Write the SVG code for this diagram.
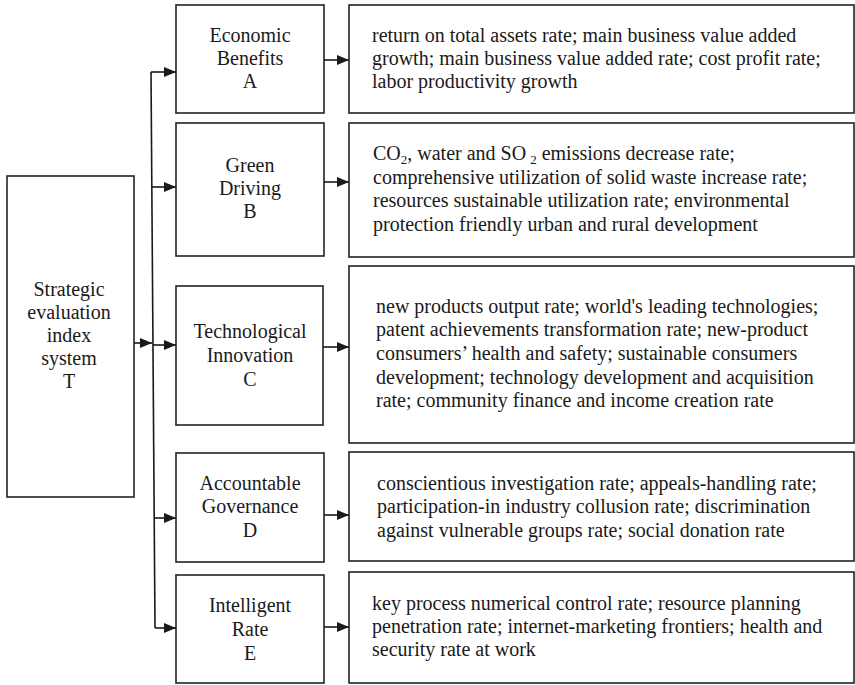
<svg xmlns="http://www.w3.org/2000/svg" width="855" height="685" viewBox="0 0 855 685">
  <defs>
    <marker id="arrow" markerWidth="12" markerHeight="10" refX="12" refY="5" orient="auto" markerUnits="userSpaceOnUse">
      <path d="M0,0 L12,5 L0,10 Z" fill="#1a1a1a"/>
    </marker>
    <style>
      .box { fill: #ffffff; stroke: #222222; stroke-width: 1.6; }
      text { font-family: 'Liberation Serif', 'DejaVu Serif', serif; font-size: 20px; fill: #1a1a1a; }
      .lbl { text-anchor: middle; }
      .sub { font-size: 13px; }
      .conn { fill: none; stroke: #1a1a1a; stroke-width: 1.6; }
      .arr { fill: none; stroke: #1a1a1a; stroke-width: 1.6; marker-end: url(#arrow); }
    </style>
  </defs>

  <rect width="855" height="685" fill="#ffffff"/>

  <!-- Root node -->
  <g id="node-T" font-family="Liberation Serif, DejaVu Serif, serif">
    <rect class="box" x="7" y="176" width="127" height="321"/>
    <text class="lbl" x="69" y="296">Strategic</text>
    <text class="lbl" x="69" y="319">evaluation</text>
    <text class="lbl" x="69" y="342">index</text>
    <text class="lbl" x="69" y="365">system</text>
    <text class="lbl" x="69" y="388">T</text>
  </g>

  <!-- Dimension nodes -->
  <g id="node-A">
    <rect class="box" x="176" y="5" width="148" height="108"/>
    <text class="lbl" x="250" y="42">Economic</text>
    <text class="lbl" x="250" y="65">Benefits</text>
    <text class="lbl" x="250" y="88">A</text>
  </g>
  <g id="node-B">
    <rect class="box" x="176" y="123" width="148" height="133"/>
    <text class="lbl" x="250" y="172">Green</text>
    <text class="lbl" x="250" y="195">Driving</text>
    <text class="lbl" x="250" y="218">B</text>
  </g>
  <g id="node-C">
    <rect class="box" x="176" y="286" width="147" height="139"/>
    <text class="lbl" x="250" y="338">Technological</text>
    <text class="lbl" x="250" y="362">Innovation</text>
    <text class="lbl" x="250" y="386">C</text>
  </g>
  <g id="node-D">
    <rect class="box" x="176" y="453" width="148" height="109"/>
    <text class="lbl" x="250" y="490">Accountable</text>
    <text class="lbl" x="250" y="513">Governance</text>
    <text class="lbl" x="250" y="537">D</text>
  </g>
  <g id="node-E">
    <rect class="box" x="176" y="575" width="148" height="108"/>
    <text class="lbl" x="250" y="612">Intelligent</text>
    <text class="lbl" x="250" y="636">Rate</text>
    <text class="lbl" x="250" y="660">E</text>
  </g>

  <!-- Indicator nodes -->
  <g id="node-A-indicators">
    <rect class="box" x="349" y="5" width="505" height="108"/>
    <text x="372" y="42">return on total assets rate; main business value added</text>
    <text x="372" y="65">growth; main business value added rate; cost profit rate;</text>
    <text x="372" y="88">labor productivity growth</text>
  </g>
  <g id="node-B-indicators">
    <rect class="box" x="349" y="123" width="505" height="134"/>
    <text x="373" y="160">CO<tspan class="sub" dy="4">2</tspan><tspan dy="-4">, water and SO</tspan><tspan class="sub" dx="4" dy="4">2</tspan><tspan dy="-4"> emissions decrease rate;</tspan></text>
    <text x="373" y="184">comprehensive utilization of solid waste increase rate;</text>
    <text x="373" y="207">resources sustainable utilization rate; environmental</text>
    <text x="373" y="231">protection friendly urban and rural development</text>
  </g>
  <g id="node-C-indicators">
    <rect class="box" x="349" y="266" width="505" height="177"/>
    <text x="376" y="313">new products output rate; world's leading technologies;</text>
    <text x="376" y="336">patent achievements transformation rate; new-product</text>
    <text x="376" y="360">consumers’ health and safety; sustainable consumers</text>
    <text x="376" y="384">development; technology development and acquisition</text>
    <text x="376" y="407">rate; community finance and income creation rate</text>
  </g>
  <g id="node-D-indicators">
    <rect class="box" x="349" y="452" width="505" height="109"/>
    <text x="377" y="490">conscientious investigation rate; appeals-handling rate;</text>
    <text x="377" y="513">participation-in industry collusion rate; discrimination</text>
    <text x="377" y="537">against vulnerable groups rate; social donation rate</text>
  </g>
  <g id="node-E-indicators">
    <rect class="box" x="349" y="572" width="505" height="111"/>
    <text x="372" y="610">key process numerical control rate; resource planning</text>
    <text x="372" y="633">penetration rate; internet-marketing frontiers; health and</text>
    <text x="372" y="656">security rate at work</text>
  </g>

  <!-- Connectors -->
  <g id="connectors">
    <path class="arr" d="M134,343 H152"/>
    <path class="conn" d="M151,72 L155,628"/>
    <path class="arr" d="M151,72 H176"/>
    <path class="arr" d="M152,187 H176"/>
    <path class="arr" d="M153,345 H176"/>
    <path class="arr" d="M154,518 H176"/>
    <path class="arr" d="M155,628 H176"/>
    <path class="arr" d="M324,60 H349"/>
    <path class="arr" d="M324,182 H349"/>
    <path class="arr" d="M323,347 H349"/>
    <path class="arr" d="M324,515 H349"/>
    <path class="arr" d="M324,627 H349"/>
  </g>
</svg>
